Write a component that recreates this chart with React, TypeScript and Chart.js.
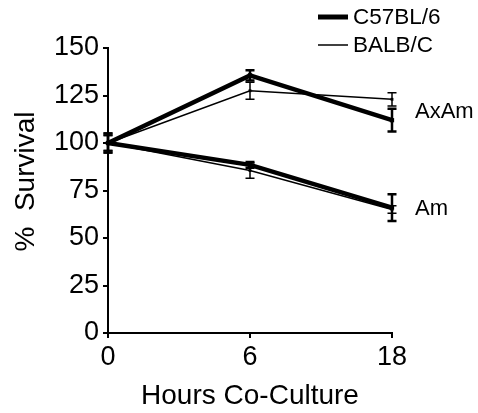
import React, { useEffect, useRef } from "react";
import { Chart, registerables } from "chart.js";

Chart.register(...registerables);

const hours = ["0", "6", "18"];
const c57AxAm = [100, 135.6, 112];
const c57AxAmErr = [5, 2.7, 6];
const balbAxAm = [100, 127.5, 123];
const balbAxAmErr = [4, 4.5, 3.5];
const c57Am = [100, 88.5, 66];
const c57AmErr = [5, 1.5, 7];
const balbAm = [100, 85.5, 65];
const balbAmErr = [4, 4, 2];
const yTicks = [0, 25, 50, 75, 100, 125, 150];
const legendNames = ["C57BL/6", "BALB/C"];
const groupLabels = ["AxAm", "Am"];
const yTitle = "%  Survival";
const xTitle = "Hours Co-Culture";

const FONT = "'Liberation Sans', Arial, Helvetica, sans-serif";

export default function App() {
  const ref = useRef<HTMLCanvasElement | null>(null);

  useEffect(() => {
    document.body.style.margin = "0";
    const canvas = ref.current;
    if (!canvas) return;

    const errors = [c57AxAmErr, balbAxAmErr, c57AmErr, balbAmErr];

    const errorBars = {
      id: "errorBars",
      afterDatasetsDraw(chart: any) {
        const ctx = chart.ctx;
        const y = chart.scales.y;
        chart.data.datasets.forEach((ds: any, di: number) => {
          const meta = chart.getDatasetMeta(di);
          const errs = errors[di];
          const thick = di % 2 === 0;
          ctx.save();
          ctx.strokeStyle = "#000";
          ctx.lineWidth = thick ? 2.5 : 1.5;
          meta.data.forEach((pt: any, i: number) => {
            const v = ds.data[i];
            const e = errs[i];
            const yt = y.getPixelForValue(v + e);
            const yb = y.getPixelForValue(v - e);
            const x = pt.x;
            const cw = 4.5;
            ctx.beginPath();
            ctx.moveTo(x, yt);
            ctx.lineTo(x, yb);
            ctx.moveTo(x - cw, yt);
            ctx.lineTo(x + cw, yt);
            ctx.moveTo(x - cw, yb);
            ctx.lineTo(x + cw, yb);
            ctx.stroke();
          });
          ctx.restore();
        });
      },
    };

    const annotations = {
      id: "annotations",
      afterDraw(chart: any) {
        const ctx = chart.ctx;
        const y = chart.scales.y;
        ctx.save();
        ctx.strokeStyle = "#000";
        ctx.fillStyle = "#000";
        ctx.textBaseline = "middle";
        ctx.textAlign = "left";
        // legend
        ctx.font = `22.5px ${FONT}`;
        const rows = [17, 45];
        legendNames.forEach((name, i) => {
          ctx.lineWidth = i === 0 ? 5 : 1.5;
          ctx.beginPath();
          ctx.moveTo(318, rows[i]);
          ctx.lineTo(348, rows[i]);
          ctx.stroke();
          ctx.fillText(name, 353, rows[i] + 1);
        });
        // group labels
        ctx.font = `22px ${FONT}`;
        const xr = chart.chartArea.right + 23;
        const c57Vals = [c57AxAm[2], c57Am[2]];
        const balbVals = [balbAxAm[2], balbAm[2]];
        const shifts = [2, 0];
        groupLabels.forEach((g, i) => {
          const yy = y.getPixelForValue((c57Vals[i] + balbVals[i]) / 2) + shifts[i];
          ctx.fillText(g, xr, yy);
        });
        // y axis title
        ctx.font = `28px ${FONT}`;
        ctx.textAlign = "center";
        ctx.translate(26, (chart.chartArea.top + chart.chartArea.bottom) / 2 - 9);
        ctx.rotate(-Math.PI / 2);
        ctx.fillText(yTitle, 0, 0);
        ctx.restore();
      },
    };

    const mk = (label: string, data: number[], thick: boolean) => ({
      label,
      data,
      borderColor: "#000",
      backgroundColor: "#000",
      borderWidth: thick ? 4.5 : 1.5,
      pointRadius: thick ? 3 : 2,
      pointStyle: "rect",
      pointBorderWidth: 0,
      tension: 0,
      fill: false,
    });

    const chart = new Chart(canvas, {
      type: "line",
      data: {
        labels: hours,
        datasets: [
          mk("C57BL/6 AxAm", c57AxAm, true),
          mk("BALB/C AxAm", balbAxAm, false),
          mk("C57BL/6 Am", c57Am, true),
          mk("BALB/C Am", balbAm, false),
        ],
      },
      options: {
        responsive: false,
        animation: false,
        events: [],
        layout: { padding: { top: 48, right: 86, left: 0, bottom: 0 } },
        plugins: {
          legend: { display: false },
          tooltip: { enabled: false },
        },
        scales: {
          x: {
            type: "category",
            offset: false,
            border: { display: true, color: "#000", width: 2 },
            grid: {
              drawOnChartArea: false,
              drawTicks: true,
              tickLength: 5,
              color: "#000",
              lineWidth: 2,
            },
            ticks: {
              color: "#000",
              font: { family: FONT, size: 27 },
              padding: 3,
              maxRotation: 0,
            },
            title: {
              display: true,
              text: xTitle,
              color: "#000",
              font: { family: FONT, size: 28 },
              padding: { top: 0, bottom: 0 },
            },
            afterFit(scale: any) {
              scale.height = 80;
            },
          },
          y: {
            min: 0,
            max: 150,
            afterBuildTicks(scale: any) {
              scale.ticks = yTicks.map((v) => ({ value: v }));
            },
            border: { display: true, color: "#000", width: 2 },
            grid: {
              drawOnChartArea: false,
              drawTicks: true,
              tickLength: 5,
              color: "#000",
              lineWidth: 2,
            },
            ticks: {
              color: "#000",
              font: { family: FONT, size: 27 },
              padding: 4,
            },
            title: { display: false },
            afterFit(scale: any) {
              scale.width = 108;
            },
          },
        },
      },
      plugins: [errorBars, annotations],
    });

    return () => chart.destroy();
  }, []);

  return (
    <div style={{ width: 478, height: 413 }}>
      <canvas ref={ref} width={478} height={413} />
    </div>
  );
}
